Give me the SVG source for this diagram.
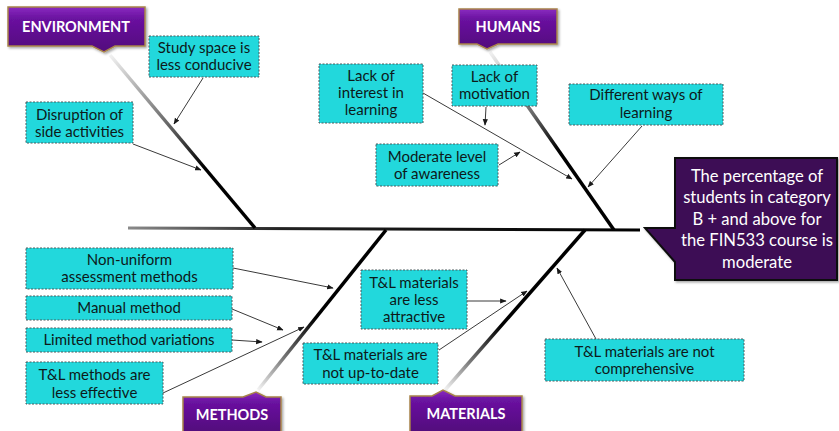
<svg xmlns="http://www.w3.org/2000/svg" width="839" height="431" viewBox="0 0 839 431">
  <defs>
    <style>
      .cause rect { fill: #22d8dc; stroke: #4a5a5c; stroke-width: 1; stroke-dasharray: 2 1.5; }
      .cause text { font-family: Lato, "Liberation Sans", sans-serif; font-size: 15px; fill: #0d1a1a; text-anchor: middle; }
      .cat path { fill: url(#catFill); stroke: #a8844a; stroke-width: 1.5; }
      .cat text { font-family: Lato, "Liberation Sans", sans-serif; font-size: 14.5px; font-weight: bold; fill: #ffffff; text-anchor: middle; }
      .link { stroke: #3a3a3a; stroke-width: 1; fill: none; marker-end: url(#arrow); }
      .bone { fill: none; stroke-width: 3.5; stroke-linecap: butt; }
    </style>
    <marker id="arrow" viewBox="0 0 10 10" refX="9" refY="5" markerWidth="6.5" markerHeight="6.5" orient="auto" markerUnits="userSpaceOnUse">
      <path d="M0,1 L10,5 L0,9 Z" fill="#1a1a1a"/>
    </marker>
    <linearGradient id="catFill" x1="0" y1="0" x2="0" y2="1">
      <stop offset="0" stop-color="#8a2cc0"/>
      <stop offset="0.25" stop-color="#6a12a0"/>
      <stop offset="1" stop-color="#52087c"/>
    </linearGradient>
    <linearGradient id="spineGrad" gradientUnits="userSpaceOnUse" x1="128" y1="228" x2="640" y2="230">
      <stop offset="0" stop-color="#8a8a8a"/>
      <stop offset="0.3" stop-color="#222"/>
      <stop offset="1" stop-color="#000"/>
    </linearGradient>
    <linearGradient id="envGrad" gradientUnits="userSpaceOnUse" x1="110" y1="55" x2="255" y2="228">
      <stop offset="0" stop-color="#f2f2f2"/>
      <stop offset="0.45" stop-color="#555"/>
      <stop offset="0.65" stop-color="#000"/>
      <stop offset="1" stop-color="#000"/>
    </linearGradient>
    <linearGradient id="humGrad" gradientUnits="userSpaceOnUse" x1="490" y1="52" x2="614" y2="230">
      <stop offset="0" stop-color="#f2f2f2"/>
      <stop offset="0.35" stop-color="#666"/>
      <stop offset="0.55" stop-color="#000"/>
      <stop offset="1" stop-color="#000"/>
    </linearGradient>
    <linearGradient id="metGrad" gradientUnits="userSpaceOnUse" x1="386" y1="230" x2="258" y2="390">
      <stop offset="0" stop-color="#000"/>
      <stop offset="0.55" stop-color="#000"/>
      <stop offset="0.8" stop-color="#777"/>
      <stop offset="1" stop-color="#f4f4f4"/>
    </linearGradient>
    <linearGradient id="matGrad" gradientUnits="userSpaceOnUse" x1="585" y1="230" x2="445" y2="390">
      <stop offset="0" stop-color="#000"/>
      <stop offset="0.6" stop-color="#000"/>
      <stop offset="0.82" stop-color="#777"/>
      <stop offset="1" stop-color="#f4f4f4"/>
    </linearGradient>
    <filter id="shadow" x="-10%" y="-10%" width="125%" height="125%">
      <feDropShadow dx="1.5" dy="1.5" stdDeviation="1.2" flood-color="#000" flood-opacity="0.35"/>
    </filter>
  </defs>

  <rect width="839" height="431" fill="#ffffff"/>

  <!-- skeleton: spine and the four category bones -->
  <g id="skeleton">
    <line x1="128" y1="228" x2="640" y2="230" stroke="url(#spineGrad)" stroke-width="3"/>
    <line class="bone" x1="110" y1="55" x2="255" y2="228" stroke="url(#envGrad)"/>
    <line class="bone" x1="490" y1="52" x2="614" y2="230" stroke="url(#humGrad)"/>
    <line class="bone" x1="386" y1="230" x2="258" y2="390" stroke="url(#metGrad)"/>
    <line class="bone" x1="585" y1="230" x2="445" y2="390" stroke="url(#matGrad)"/>
  </g>

  <!-- cause arrows -->
  <g id="connectors">
    <line class="link" x1="203" y1="78" x2="174" y2="124"/>
    <line class="link" x1="133" y1="144" x2="201" y2="170"/>
    <line class="link" x1="423" y1="93" x2="572" y2="179"/>
    <line class="link" x1="486" y1="107" x2="485" y2="125"/>
    <line class="link" x1="499" y1="165" x2="520" y2="152"/>
    <line class="link" x1="642" y1="126" x2="588" y2="187"/>
    <line class="link" x1="233" y1="268" x2="333" y2="288"/>
    <line class="link" x1="232" y1="309" x2="283" y2="330"/>
    <line class="link" x1="232" y1="340" x2="262" y2="342"/>
    <line class="link" x1="163" y1="393" x2="304" y2="327"/>
    <line class="link" x1="467" y1="301" x2="506" y2="301"/>
    <line class="link" x1="439" y1="350" x2="527" y2="291"/>
    <line class="link" x1="596" y1="339" x2="557" y2="268"/>
  </g>

  <!-- problem statement -->
  <g id="head">
    <path d="M675,158 H837 V280 H675 V262 L645,228 H675 Z" fill="#3d0a55" stroke="#111" stroke-width="2" filter="url(#shadow)"/>
    <g font-family="Lato, 'Liberation Sans', sans-serif" font-size="16.6" fill="#ffffff" text-anchor="middle">
      <text x="757" y="182">The percentage of</text>
      <text x="757" y="203">students in category</text>
      <text x="757" y="225">B + and above for</text>
      <text x="757" y="246">the FIN533 course is</text>
      <text x="757" y="268">moderate</text>
    </g>
  </g>

  <!-- category labels -->
  <g id="cat-environment" class="cat">
    <path d="M8,7 H145 V46 H115 L104,52 L92,46 H8 Z" filter="url(#shadow)"/>
    <text x="76" y="32">ENVIRONMENT</text>
  </g>
  <g id="cat-humans" class="cat">
    <path d="M459,9 H557 V44 H498 L487,49 L477,44 H459 Z" filter="url(#shadow)"/>
    <text x="508" y="32">HUMANS</text>
  </g>
  <g id="cat-methods" class="cat">
    <path d="M183,397 H243 L256,392 L266,397 H281 V432 H183 Z" filter="url(#shadow)"/>
    <text x="232" y="420">METHODS</text>
  </g>
  <g id="cat-materials" class="cat">
    <path d="M410,396 H432 L443,390 L455,396 H522 V432 H410 Z" filter="url(#shadow)"/>
    <text x="466" y="419">MATERIALS</text>
  </g>

  <!-- causes -->
  <g id="c-study-space" class="cause">
    <rect x="149" y="36" width="110" height="41"/>
    <text x="204" y="53">Study space is</text>
    <text x="204" y="70">less conducive</text>
  </g>
  <g id="c-disruption" class="cause">
    <rect x="26" y="102" width="107" height="41"/>
    <text x="79.5" y="120">Disruption of</text>
    <text x="79.5" y="137">side activities</text>
  </g>
  <g id="c-lack-interest" class="cause">
    <rect x="319" y="64" width="104" height="59"/>
    <text x="371" y="81">Lack of</text>
    <text x="371" y="98">interest in</text>
    <text x="371" y="115">learning</text>
  </g>
  <g id="c-lack-motivation" class="cause">
    <rect x="452" y="65" width="85" height="41"/>
    <text x="494.5" y="82">Lack of</text>
    <text x="494.5" y="99">motivation</text>
  </g>
  <g id="c-awareness" class="cause">
    <rect x="376" y="144" width="122" height="42"/>
    <text x="437" y="162">Moderate level</text>
    <text x="437" y="179">of awareness</text>
  </g>
  <g id="c-different-ways" class="cause">
    <rect x="569" y="84" width="154" height="41"/>
    <text x="646" y="100">Different ways of</text>
    <text x="646" y="118">learning</text>
  </g>
  <g id="c-non-uniform" class="cause">
    <rect x="26" y="248" width="207" height="41"/>
    <text x="129.5" y="265">Non-uniform</text>
    <text x="129.5" y="282">assessment methods</text>
  </g>
  <g id="c-manual" class="cause">
    <rect x="26" y="296" width="206" height="24"/>
    <text x="129" y="313">Manual method</text>
  </g>
  <g id="c-limited" class="cause">
    <rect x="26" y="328" width="206" height="24"/>
    <text x="129" y="345">Limited method variations</text>
  </g>
  <g id="c-less-effective" class="cause">
    <rect x="26" y="362" width="137" height="42"/>
    <text x="94.5" y="380">T&amp;L methods are</text>
    <text x="94.5" y="398">less effective</text>
  </g>
  <g id="c-less-attractive" class="cause">
    <rect x="361" y="270" width="106" height="59"/>
    <text x="414" y="288">T&amp;L materials</text>
    <text x="414" y="305">are less</text>
    <text x="414" y="322">attractive</text>
  </g>
  <g id="c-not-up-to-date" class="cause">
    <rect x="303" y="343" width="135" height="41"/>
    <text x="370.5" y="360">T&amp;L materials are</text>
    <text x="370.5" y="378">not up-to-date</text>
  </g>
  <g id="c-not-comprehensive" class="cause">
    <rect x="545" y="339" width="199" height="42"/>
    <text x="644.5" y="357">T&amp;L materials are not</text>
    <text x="644.5" y="374">comprehensive</text>
  </g>
</svg>
